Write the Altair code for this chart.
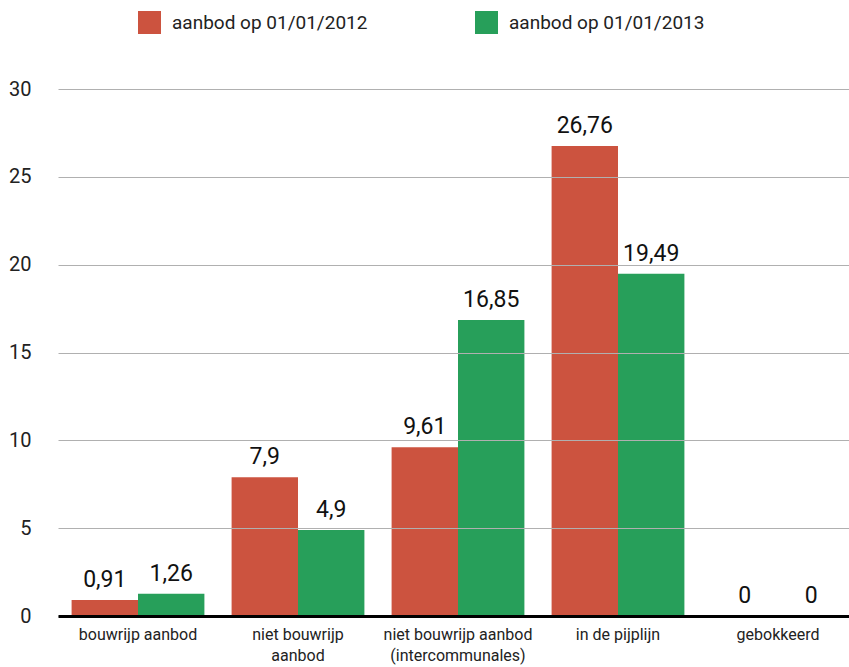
import altair as alt
import pandas as pd

categories = ["bouwrijp aanbod", "niet bouwrijp|aanbod", "niet bouwrijp aanbod|(intercommunales)",
              "in de pijplijn", "gebokkeerd"]
series = ["aanbod op 01/01/2012", "aanbod op 01/01/2013"]
values_2012 = [0.91, 7.9, 9.61, 26.76, 0]
values_2013 = [1.26, 4.9, 16.85, 19.49, 0]
colors = ["#CC533F", "#279F5A"]

rows = []
for c, a, b in zip(categories, values_2012, values_2013):
    rows.append({"cat": c, "series": series[0], "v": a, "lbl": f"{a:g}".replace(".", ",")})
    rows.append({"cat": c, "series": series[1], "v": b, "lbl": f"{b:g}".replace(".", ",")})
df = pd.DataFrame(rows)

FONT = "Roboto"

x = alt.X("cat:N", sort=categories, title=None,
          scale=alt.Scale(range=[0, 800], paddingInner=0.17, paddingOuter=0.085),
          axis=alt.Axis(labelExpr="split(datum.label, '|')", labelAngle=0, labelFontSize=16,
                        labelFont=FONT, labelColor="#222222", labelPadding=10, labelLineHeight=21,
                        labelBaseline="top", ticks=False, domainColor="#000000", domainWidth=3,
                        grid=False, zindex=2, labelLimit=300))
xo = alt.XOffset("series:N", sort=series, scale=alt.Scale(paddingInner=0, paddingOuter=0))
y = alt.Y("v:Q", title=None, scale=alt.Scale(domain=[0, 30], nice=False),
          axis=alt.Axis(values=[0, 5, 10, 15, 20, 25, 30], labelFontSize=20, labelFont=FONT,
                        labelColor="#222222", labelPadding=27, ticks=False, domain=False,
                        gridColor="#b0b0b0", gridWidth=1, zindex=1))

bars = alt.Chart(df).mark_bar(opacity=1).encode(
    x=x, xOffset=xo, y=y,
    color=alt.Color("series:N", sort=series, title=None,
                    scale=alt.Scale(domain=series, range=colors),
                    legend=alt.Legend(orient="none", legendX=80, legendY=-78, direction="horizontal",
                                      symbolType="square", symbolSize=529, symbolStrokeWidth=0,
                                      symbolOpacity=1, labelFontSize=19, labelFont=FONT,
                                      labelColor="#222222", labelOffset=11, columnPadding=107,
                                      labelLimit=400)),
)

texts = alt.Chart(df).mark_text(baseline="bottom", dy=-8, fontSize=23, font=FONT, color="#111111").encode(
    x=alt.X("cat:N", sort=categories), xOffset=alt.XOffset("series:N", sort=series), y="v:Q", text="lbl:N"
)

chart = alt.layer(bars, texts).properties(
    width=791, height=527,
    autosize=alt.AutoSizeParams(type="none"),
    padding={"left": 58, "top": 89, "right": 0, "bottom": 51},
).configure(background="white").configure_view(stroke=None, strokeWidth=0)

chart.save("out.html", embed_options={"renderer": "svg", "actions": False})
